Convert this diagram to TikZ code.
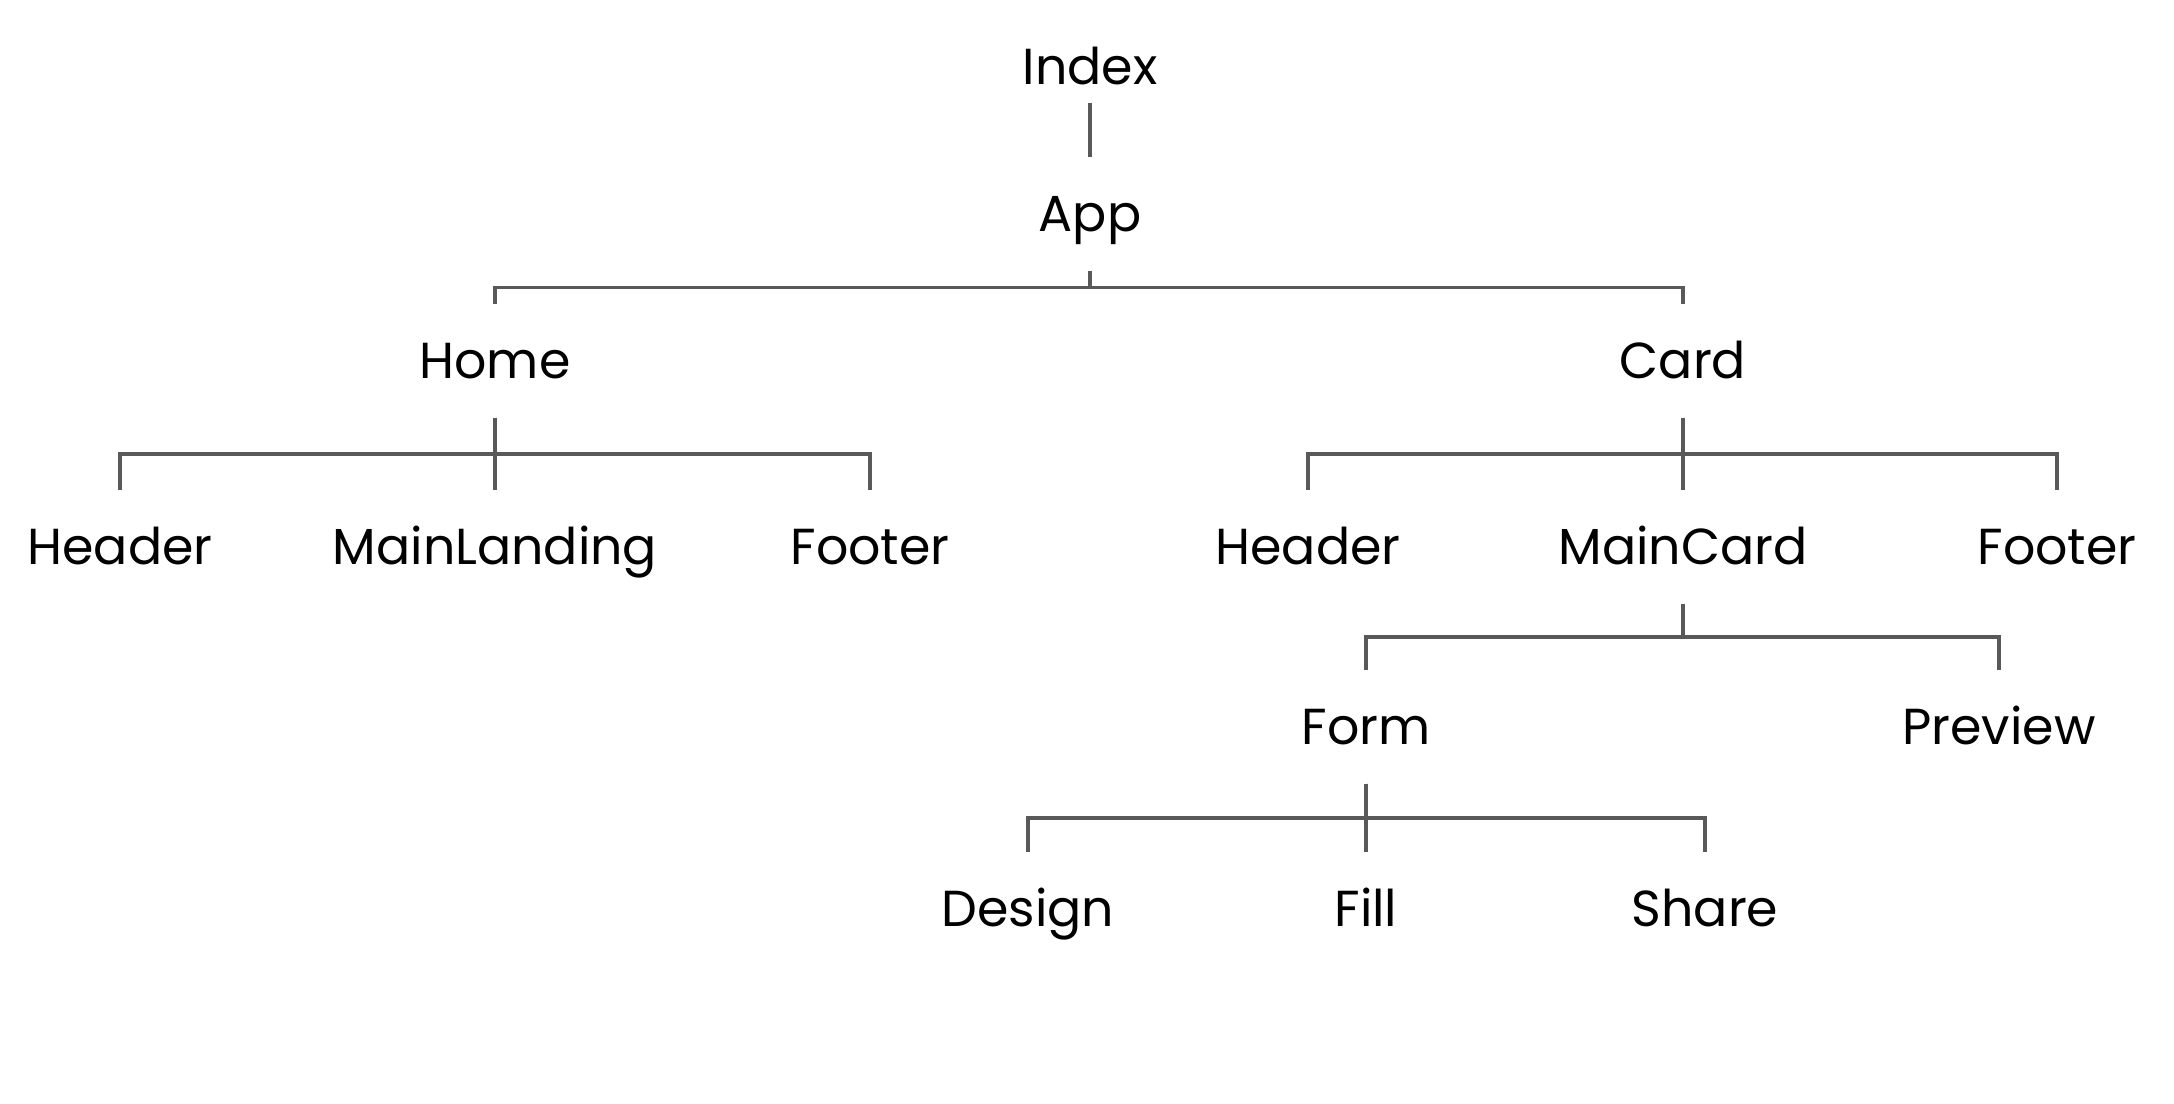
\documentclass[tikz,border=0pt]{standalone}
\usepackage{fontspec}
\setmainfont{Poppins}
\usepackage{tikz}
\usetikzlibrary{calc}
\tikzset{
    comp/.style={anchor=base, font=\fontsize{14.4}{17}\selectfont, text height=0.36cm, text depth=0pt, inner xsep=0pt, inner ysep=0.38cm},
    branch/.style={draw=black!65, line width=0.9pt,
        to path={(\tikztostart) |- ($(\tikztostart)!0.5!(\tikztotarget)$) -| (\tikztotarget)}}
}

\begin{document}
\begin{tikzpicture}
    \useasboundingbox (0,0) rectangle (21.74,-11.04);

    % top
    \node[comp, inner ysep=0.17cm] (index) at (10.90,-0.85) {Index};
    \node[comp] (app) at (10.90,-2.32) {App};

    \node[comp] (home) at (4.95,-3.79) {Home};
    \node[comp] (card) at (16.83,-3.79) {Card};

    % home page
    \node[comp] (hheader) at (1.20,-5.65) {Header};
    \node[comp] (mainlanding) at (4.95,-5.65) {MainLanding};
    \node[comp] (hfooter) at (8.70,-5.65) {Footer};

    % card page
    \node[comp] (cheader) at (13.08,-5.65) {Header};
    \node[comp] (maincard) at (16.83,-5.65) {MainCard};
    \node[comp] (cfooter) at (20.57,-5.65) {Footer};

    \node[comp] (form) at (13.66,-7.45) {Form};
    \node[comp] (preview) at (19.99,-7.45) {Preview};

    \node[comp] (design) at (10.28,-9.27) {Design};
    \node[comp] (fill) at (13.66,-9.27) {Fill};
    \node[comp] (share) at (17.05,-9.27) {Share};

    % links
    \draw[branch] (index) to (app);
    \foreach \kid in {home,card} \draw[branch] (app) to (\kid);
    \foreach \kid in {hheader,mainlanding,hfooter} \draw[branch] (home) to (\kid);
    \foreach \kid in {cheader,maincard,cfooter} \draw[branch] (card) to (\kid);
    \foreach \kid in {form,preview} \draw[branch] (maincard) to (\kid);
    \foreach \kid in {design,fill,share} \draw[branch] (form) to (\kid);

\end{tikzpicture}
\end{document}
